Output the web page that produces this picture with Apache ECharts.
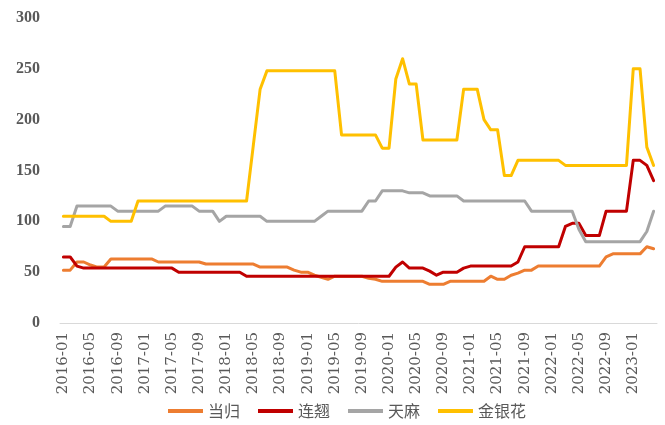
<!DOCTYPE html>
<html><head><meta charset="utf-8">
<script src="https://cdn.jsdelivr.net/npm/echarts@6/dist/echarts.min.js"></script>
<style>html,body{margin:0;padding:0;background:#fff}#c{width:665px;height:425px}</style>
</head><body><div id="c"></div>
<script>
var months = [
'2016-01','2016-02','2016-03','2016-04','2016-05','2016-06','2016-07','2016-08','2016-09','2016-10','2016-11','2016-12',
'2017-01','2017-02','2017-03','2017-04','2017-05','2017-06','2017-07','2017-08','2017-09','2017-10','2017-11','2017-12',
'2018-01','2018-02','2018-03','2018-04','2018-05','2018-06','2018-07','2018-08','2018-09','2018-10','2018-11','2018-12',
'2019-01','2019-02','2019-03','2019-04','2019-05','2019-06','2019-07','2019-08','2019-09','2019-10','2019-11','2019-12',
'2020-01','2020-02','2020-03','2020-04','2020-05','2020-06','2020-07','2020-08','2020-09','2020-10','2020-11','2020-12',
'2021-01','2021-02','2021-03','2021-04','2021-05','2021-06','2021-07','2021-08','2021-09','2021-10','2021-11','2021-12',
'2022-01','2022-02','2022-03','2022-04','2022-05','2022-06','2022-07','2022-08','2022-09','2022-10','2022-11','2022-12',
'2023-01','2023-02','2023-03','2023-04'];

var danggui = [52,52,60,60,57,55,55,63,63,63,63,63,63,63,60,60,60,60,60,60,60,58,58,58,58,58,58,58,58,55,55,55,55,55,52,50,50,47,45,43,46,46,46,46,46,44,43,41,41,41,41,41,41,41,38,38,38,41,41,41,41,41,41,46,43,43,47,49,52,52,56,56,56,56,56,56,56,56,56,56,65,68,68,68,68,68,75,73];
var lianqiao = [65,65,56,54,54,54,54,54,54,54,54,54,54,54,54,54,54,50,50,50,50,50,50,50,50,50,50,46,46,46,46,46,46,46,46,46,46,46,46,46,46,46,46,46,46,46,46,46,46,55,60,54,54,54,51,47,50,50,50,54,56,56,56,56,56,56,56,60,75,75,75,75,75,75,95,98,98,86,86,86,110,110,110,110,160,160,155,140];
var tianma = [95,95,115,115,115,115,115,115,110,110,110,110,110,110,110,115,115,115,115,115,110,110,110,100,105,105,105,105,105,105,100,100,100,100,100,100,100,100,105,110,110,110,110,110,110,120,120,130,130,130,130,128,128,128,125,125,125,125,125,120,120,120,120,120,120,120,120,120,120,110,110,110,110,110,110,110,92,80,80,80,80,80,80,80,80,80,90,110];
var jinyinhua = [105,105,105,105,105,105,105,100,100,100,100,120,120,120,120,120,120,120,120,120,120,120,120,120,120,120,120,120,175,230,248,248,248,248,248,248,248,248,248,248,248,185,185,185,185,185,185,172,172,240,260,235,235,180,180,180,180,180,180,230,230,230,200,190,190,145,145,160,160,160,160,160,160,160,155,155,155,155,155,155,155,155,155,155,250,250,173,155];

var names = ['当归','连翘','天麻','金银花'];
var colors = ['#ED7D31','#C00000','#A5A5A5','#FFC000'];
var yTicks = {min:0, max:300, interval:50};

var chart = echarts.init(document.getElementById('c'), null, {renderer:'canvas'});
function mk(name, data, color){
  return {name:name, type:'line', data:data, symbol:'none', smooth:false,
    lineStyle:{width:3, color:color, join:'round', cap:'round'}, itemStyle:{color:color}};
}
chart.setOption({
  animation:false,
  backgroundColor:'#fff',
  grid:{left:60, right:8, top:18, bottom:102},
  legend:{data:names, left:163, bottom:1, icon:'rect', itemWidth:35, itemHeight:4, itemGap:18,
    textStyle:{fontFamily:'Noto Sans CJK SC', fontSize:16, color:'#595959'}},
  xAxis:{type:'category', data:months, boundaryGap:true,
    axisLine:{lineStyle:{color:'#D9D9D9', width:1}},
    axisTick:{interval:3, length:5, lineStyle:{color:'#D9D9D9'}},
    axisLabel:{interval:3, rotate:90, margin:9, fontFamily:'DejaVu Serif', fontSize:15, color:'#595959'}},
  yAxis:{type:'value', min:yTicks.min, max:yTicks.max, interval:yTicks.interval,
    splitLine:{show:false}, axisLine:{show:false}, axisTick:{show:false},
    axisLabel:{margin:20, fontFamily:'Liberation Serif', fontWeight:'bold', fontSize:16, color:'#595959'}},
  series:[mk(names[0],danggui,colors[0]), mk(names[1],lianqiao,colors[1]), mk(names[2],tianma,colors[2]), mk(names[3],jinyinhua,colors[3])]
});
</script></body></html>
